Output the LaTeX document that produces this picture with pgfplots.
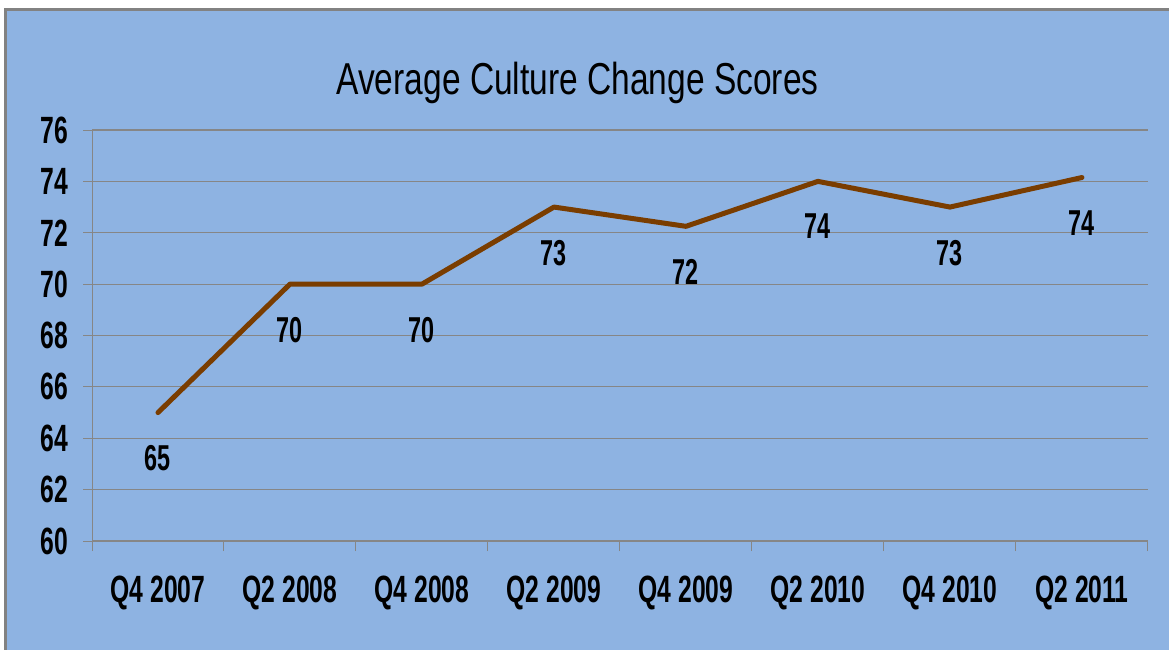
\documentclass[border=0pt]{standalone}
\usepackage{fontspec}
\usepackage{pgfplots}
\pgfplotsset{compat=1.18}
\setmainfont{Liberation Sans}
\newfontfamily\nb[FakeStretch=0.65]{Liberation Sans Bold}
\newfontfamily\nt[FakeStretch=0.75]{Liberation Sans}
\definecolor{bgblue}{RGB}{142,179,226}
\definecolor{gridgray}{RGB}{134,134,134}
\definecolor{linebrown}{RGB}{122,61,0}
\definecolor{framegray}{RGB}{130,130,130}
\begin{document}
\begin{tikzpicture}[x=1pt,y=1pt]
\useasboundingbox (0,0) rectangle (1169,649);
\fill[white] (0,0) rectangle (1169,649);
\draw[framegray, line width=3pt, fill=bgblue] (5.5,-20) rectangle (1190,639.5);
\node[anchor=base, font=\nt\fontsize{44.7}{48}\selectfont] at (577.5,554) {Average Culture Change Scores};
\begin{axis}[
  at={(92pt,108pt)}, anchor=south west,
  scale only axis, width=1056pt, height=411pt,
  xmin=-0.5, xmax=7.5, ymin=60, ymax=76,
  ytick={60,62,...,76},
  xtick={0,...,7},
  xticklabels={Q4 2007,Q2 2008,Q4 2008,Q2 2009,Q4 2009,Q2 2010,Q4 2010,Q2 2011},
  minor xtick={-0.5,0.5,...,7.5},
  axis x line*=bottom, axis y line*=left,
  axis line style={gridgray, line width=1pt, -},
  x axis line style={-}, y axis line style={-},
  tick align=outside,
  major tick length=9pt, minor tick length=10pt,
  x tick style={draw=none}, 
  minor x tick style={draw=gridgray, line width=1pt},
  y tick style={draw=gridgray, line width=1pt},
  ymajorgrids, major grid style={gridgray, line width=1.2pt},
  /pgf/number format/assume math mode=true,
  ticklabel style={font=\nb\fontsize{38}{40}\selectfont},
  xticklabel style={yshift=-22pt},
  yticklabel style={xshift=-11pt},
  clip=false,
  nodes near coords={\pgfplotspointmeta},
  point meta=explicit symbolic,
  every node near coord/.style={anchor=north, yshift=-27pt, font=\nb\fontsize{36}{36}\selectfont, text=black},
]
\addplot[linebrown, line width=5pt, line join=round, line cap=round] table[meta=lab] {
x y lab
0 65 65
1 70 70
2 70 70
3 73 73
4 72.25 72
5 74 74
6 73 73
7 74.15 74
};
\end{axis}
\end{tikzpicture}
\end{document}
